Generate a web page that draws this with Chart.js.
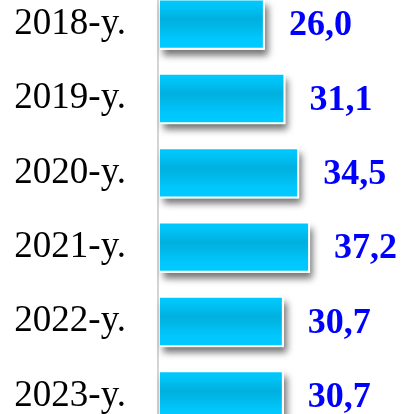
<!DOCTYPE html>
<html><head><meta charset="utf-8">
<script src="https://cdn.jsdelivr.net/npm/chart.js@4/dist/chart.umd.min.js"></script>
<style>
html,body{margin:0;padding:0;background:#fff;overflow:hidden;width:403px;height:414px}
#wrap{position:absolute;left:0;top:-13px;width:403px;height:446px}
</style>
</head><body><div id="wrap"><canvas id="c"></canvas></div>
<script>
const categories = ['2018-y.','2019-y.','2020-y.','2021-y.','2022-y.','2023-y.'];
const values = [26.0, 31.1, 34.5, 37.2, 30.7, 30.7];
const valueLabels = values.map(v => v.toFixed(1).replace('.', ','));

const BAR_PCT = 0.69;

const axisLinePlugin = {
  id: 'axisLine',
  beforeDatasetsDraw(chart) {
    const ctx = chart.ctx, a = chart.chartArea;
    ctx.save();
    ctx.strokeStyle = '#d4d4d4';
    ctx.lineWidth = 2;
    ctx.beginPath();
    ctx.moveTo(a.left - 2, 0);
    ctx.lineTo(a.left - 2, chart.height);
    ctx.stroke();
    ctx.restore();
  }
};

const shadowPlugin = {
  id: 'barShadow',
  beforeDatasetsDraw(chart) {
    const ctx = chart.ctx;
    const meta = chart.getDatasetMeta(0);
    ctx.save();
    ctx.shadowColor = 'rgba(0,0,0,0.55)';
    ctx.shadowBlur = 7;
    ctx.shadowOffsetX = 3;
    ctx.shadowOffsetY = 6;
    ctx.fillStyle = '#ffffff';
    meta.data.forEach(b => {
      const p = b.getProps(['x', 'y', 'base', 'height'], true);
      ctx.fillRect(p.base, p.y - p.height / 2, p.x - p.base, p.height);
    });
    ctx.restore();
  }
};

const valueLabelPlugin = {
  id: 'valueLabels',
  afterDatasetsDraw(chart) {
    const ctx = chart.ctx;
    const meta = chart.getDatasetMeta(0);
    ctx.save();
    ctx.fillStyle = '#0000ff';
    ctx.font = 'bold 36px "Liberation Serif"';
    ctx.textAlign = 'left';
    ctx.textBaseline = 'middle';
    meta.data.forEach((b, i) => {
      const p = b.getProps(['x', 'y'], true);
      ctx.fillText(valueLabels[i], p.x + 24, p.y + 2);
    });
    ctx.restore();
  }
};

function barGradient(c) {
  const chart = c.chart;
  const a = chart.chartArea;
  if (!a || c.dataIndex === undefined) return '#00c4f8';
  const y = chart.scales.y.getPixelForValue(c.dataIndex);
  const h = (a.height / categories.length) * BAR_PCT;
  const g = chart.ctx.createLinearGradient(0, y - h / 2, 0, y + h / 2);
  g.addColorStop(0, '#00caff');
  g.addColorStop(0.15, '#00c4f8');
  g.addColorStop(0.4, '#00b0df');
  g.addColorStop(0.55, '#00b8e8');
  g.addColorStop(0.8, '#00c8ff');
  g.addColorStop(1, '#00caff');
  return g;
}

new Chart(document.getElementById('c'), {
  type: 'bar',
  data: {
    labels: categories,
    datasets: [{
      data: values,
      backgroundColor: barGradient,
      borderColor: '#ffffff',
      borderWidth: 2,
      borderSkipped: 'start',
      barPercentage: BAR_PCT,
      categoryPercentage: 1
    }]
  },
  options: {
    indexAxis: 'y',
    responsive: true,
    maintainAspectRatio: false,
    animation: false,
    layout: { padding: { left: 0, right: 9, top: 0, bottom: 0 } },
    plugins: { legend: { display: false }, tooltip: { enabled: false } },
    scales: {
      x: { display: false, min: 0, max: 58 },
      y: {
        afterFit(s) { s.width = 160; s.paddingTop = 0; s.paddingBottom = 0; },
        grid: { display: false, drawTicks: false },
        border: { display: false },
        ticks: {
          color: '#000000',
          padding: 34,
          font: { family: '"Liberation Serif"', size: 37 }
        }
      }
    }
  },
  plugins: [axisLinePlugin, shadowPlugin, valueLabelPlugin]
});
</script>
</body></html>
